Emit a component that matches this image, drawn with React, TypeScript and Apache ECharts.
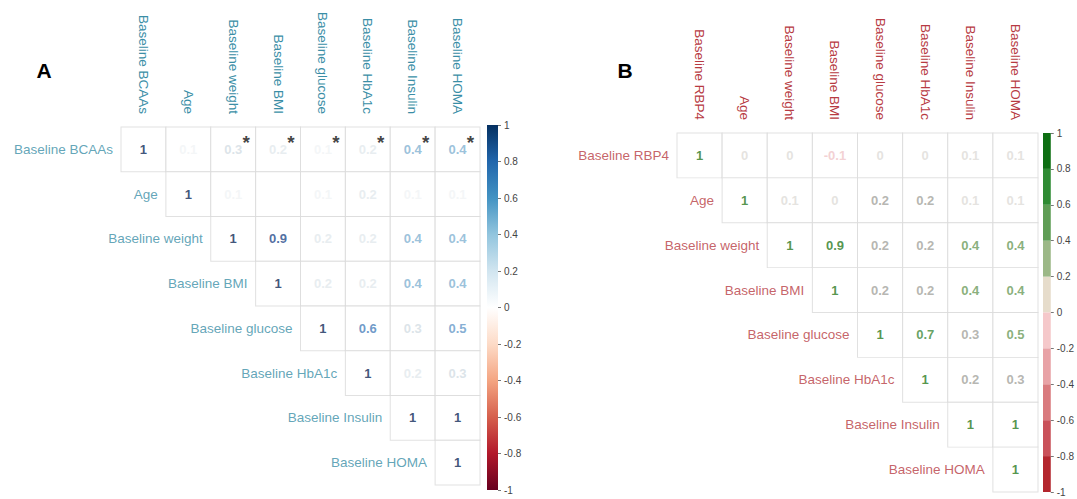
import React, { useEffect, useRef } from "react";
import * as echarts from "echarts";

// ---------- DATA ----------
const varsA = [
  "Baseline BCAAs",
  "Age",
  "Baseline weight",
  "Baseline BMI",
  "Baseline glucose",
  "Baseline HbA1c",
  "Baseline Insulin",
  "Baseline HOMA",
];
// upper triangle, row i starts at column i
const corrA: number[][] = [
  [1, 0.1, 0.3, 0.2, 0.1, 0.2, 0.4, 0.4],
  [1, 0.1, 0, 0.1, 0.2, 0.1, 0.1],
  [1, 0.9, 0.2, 0.2, 0.4, 0.4],
  [1, 0.2, 0.2, 0.4, 0.4],
  [1, 0.6, 0.3, 0.5],
  [1, 0.2, 0.3],
  [1, 1],
  [1],
];
const starRowA = "Baseline BCAAs";
const starColsA = [
  "Baseline weight",
  "Baseline BMI",
  "Baseline glucose",
  "Baseline HbA1c",
  "Baseline Insulin",
  "Baseline HOMA",
];

const varsB = [
  "Baseline RBP4",
  "Age",
  "Baseline weight",
  "Baseline BMI",
  "Baseline glucose",
  "Baseline HbA1c",
  "Baseline Insulin",
  "Baseline HOMA",
];
const corrB: number[][] = [
  [1, 0, 0, -0.1, 0, 0, 0.1, 0.1],
  [1, 0.1, 0, 0.2, 0.2, 0.1, 0.1],
  [1, 0.9, 0.2, 0.2, 0.4, 0.4],
  [1, 0.2, 0.2, 0.4, 0.4],
  [1, 0.7, 0.3, 0.5],
  [1, 0.2, 0.3],
  [1, 1],
  [1],
];

const colorbarTicks = [-1, -0.8, -0.6, -0.4, -0.2, 0, 0.2, 0.4, 0.6, 0.8, 1];

// ---------- STYLE ----------
const rdbu = [
  "#67001F", "#B2182B", "#D6604D", "#F4A582", "#FDDBC7", "#FFFFFF",
  "#D1E5F0", "#92C5DE", "#4393C3", "#2166AC", "#053061",
];
// text colour anchors for panel A (value -> colour)
const textAnchorsA: [number, string][] = [
  [-1, "#67001F"],
  [0, "#ffffff"],
  [0.2, "#e2e9ed"],
  [0.3, "#d3dde4"],
  [0.4, "#82b2d2"],
  [0.5, "#6699c8"],
  [0.6, "#4a80ba"],
  [0.9, "#1f4a8a"],
  [1, "#0f2a58"],
];
const bandsB = [
  "#b3262e", "#c9515a", "#d97a7e", "#e8a2a6", "#f5c8ca",
  "#e6dccb", "#9cb887", "#5f9d55", "#2f8b33", "#0d6e12",
];
const textBandsB = [
  "#b3262e", "#c9515a", "#d97a7e", "#e8a2a6", "#f0c6c9",
  "#dedcd8", "#a3a39d", "#6b9b5a", "#3f8a3a", "#2a7a1e",
];
const FONT = "'Liberation Sans', Arial, sans-serif";
const labelColA = "#3a8ea6";
const labelColB = "#b73a42";

function hexToRgb(h: string) {
  const n = parseInt(h.slice(1), 16);
  return [(n >> 16) & 255, (n >> 8) & 255, n & 255];
}
function lerpColor(a: string, b: string, t: number) {
  const A = hexToRgb(a), B = hexToRgb(b);
  const c = A.map((v, i) => Math.round(v + (B[i] - v) * t));
  return `rgb(${c[0]},${c[1]},${c[2]})`;
}
function colorA(v: number) {
  for (let i = 0; i < textAnchorsA.length - 1; i++) {
    const [v0, c0] = textAnchorsA[i];
    const [v1, c1] = textAnchorsA[i + 1];
    if (v >= v0 - 1e-9 && v <= v1 + 1e-9) return lerpColor(c0, c1, (v - v0) / (v1 - v0));
  }
  return textAnchorsA[textAnchorsA.length - 1][1];
}
function colorB(v: number) {
  const i = Math.min(9, Math.floor((v + 1) / 0.2 + 1e-9));
  return textBandsB[i];
}
function fmt(v: number) {
  if (v === 0) return "0";
  return String(v);
}

type PanelCfg = {
  vars: string[];
  corr: number[][];
  grid: { left: number; top: number; width: number; height: number };
  cb: { left: number; top: number; width: number; height: number };
  labelColor: string;
  colorFn: (v: number) => string;
  fontSize: number;
};

function buildPanel(cfg: PanelCfg, gi: number, opt: any) {
  const n = cfg.vars.length;
  const cw = cfg.grid.width / n;
  const ch = cfg.grid.height / n;
  const mainIdx = gi;
  const cbIdx = gi + 1;
  opt.grid.push({ ...cfg.grid, containLabel: false });
  opt.grid.push({ ...cfg.cb, containLabel: false });
  opt.xAxis.push({
    type: "category",
    data: cfg.vars,
    gridIndex: mainIdx,
    position: "top",
    axisLine: { show: false },
    axisTick: { show: false },
    splitLine: { show: false },
    axisLabel: {
      rotate: 90,
      interval: 0,
      margin: 13,
      color: cfg.labelColor,
      fontSize: cfg.fontSize,
      fontFamily: FONT,
    },
  });
  opt.yAxis.push({
    type: "category",
    data: cfg.vars,
    gridIndex: mainIdx,
    inverse: true,
    show: false,
  });
  opt.xAxis.push({ type: "category", data: ["cb"], gridIndex: cbIdx, show: false });
  opt.yAxis.push({
    type: "value",
    gridIndex: cbIdx,
    min: -1,
    max: 1,
    interval: 0.2,
    position: "right",
    axisLine: { show: false },
    axisTick: { show: true, length: 3, lineStyle: { color: "#777" } },
    splitLine: { show: false },
    axisLabel: { fontSize: 10, color: "#444", margin: 6, fontFamily: FONT },
  });

  const cells: any[] = [];
  const values: any[] = [];
  const rowLabels: any[] = [];
  cfg.corr.forEach((row, i) => {
    rowLabels.push({ value: [i, i], name: cfg.vars[i] });
    row.forEach((v, k) => {
      const j = i + k;
      cells.push([j, i]);
      values.push({
        value: [j, i, v],
        label: { color: cfg.colorFn(v) },
      });
    });
  });

  opt.series.push({
    type: "scatter",
    xAxisIndex: mainIdx,
    yAxisIndex: mainIdx,
    symbol: "rect",
    symbolSize: [cw, ch],
    itemStyle: { color: "#ffffff", borderColor: "#d9d9d9", borderWidth: 1 },
    data: cells,
    silent: true,
    z: 1,
  });
  opt.series.push({
    type: "scatter",
    xAxisIndex: mainIdx,
    yAxisIndex: mainIdx,
    symbolSize: 0,
    data: values,
    silent: true,
    z: 3,
    label: {
      show: true,
      position: "inside",
      formatter: (p: any) => fmt(p.value[2]),
      fontSize: 13,
      fontWeight: "bold",
      fontFamily: FONT,
    },
  });
  opt.series.push({
    type: "scatter",
    xAxisIndex: mainIdx,
    yAxisIndex: mainIdx,
    symbolSize: 0,
    data: rowLabels,
    silent: true,
    z: 3,
    label: {
      show: true,
      position: "left",
      distance: cw / 2 + 8,
      formatter: (p: any) => p.name,
      color: cfg.labelColor,
      fontSize: cfg.fontSize,
      fontFamily: FONT,
    },
  });
}

export default function App() {
  const ref = useRef<HTMLDivElement>(null);
  useEffect(() => {
    if (!ref.current) return;
    const chart = echarts.init(ref.current, null, { renderer: "svg" });
    const opt: any = {
      animation: false,
      backgroundColor: "#ffffff",
      grid: [],
      xAxis: [],
      yAxis: [],
      series: [],
      graphic: [
        {
          type: "text",
          x: 44,
          y: 70,
          style: {
            text: "A",
            fontSize: 21,
            fontWeight: "bold",
            fontFamily: FONT,
            fill: "#000",
            align: "center",
            verticalAlign: "middle",
          },
        },
        {
          type: "text",
          x: 625,
          y: 70,
          style: {
            text: "B",
            fontSize: 21,
            fontWeight: "bold",
            fontFamily: FONT,
            fill: "#000",
            align: "center",
            verticalAlign: "middle",
          },
        },
      ],
    };

    // Panel A
    buildPanel(
      {
        vars: varsA,
        corr: corrA,
        grid: { left: 121, top: 127, width: 359, height: 358 },
        cb: { left: 487, top: 125, width: 11, height: 365 },
        labelColor: labelColA,
        colorFn: colorA,
        fontSize: 13.5,
      },
      0,
      opt
    );
    // asterisks A
    const starData = starColsA.map((c) => [varsA.indexOf(c), varsA.indexOf(starRowA)]);
    opt.series.push({
      type: "scatter",
      xAxisIndex: 0,
      yAxisIndex: 0,
      symbolSize: 0,
      data: starData,
      silent: true,
      z: 4,
      label: {
        show: true,
        position: "inside",
        offset: [13, -7],
        formatter: "*",
        fontSize: 19,
        fontWeight: "bold",
        color: "#111",
        fontFamily: FONT,
      },
    });
    // colorbar A: gradient bars
    const posStops = rdbu.slice(5).reverse().map((c, i) => ({ offset: i / 5, color: c }));
    const negStops = rdbu.slice(0, 6).reverse().map((c, i) => ({ offset: i / 5, color: c }));
    opt.series.push({
      type: "bar",
      xAxisIndex: 1,
      yAxisIndex: 1,
      stack: "cbA",
      barWidth: "100%",
      silent: true,
      data: [colorbarTicks[colorbarTicks.length - 1]],
      itemStyle: { color: new echarts.graphic.LinearGradient(0, 0, 0, 1, posStops) },
    });
    opt.series.push({
      type: "bar",
      xAxisIndex: 1,
      yAxisIndex: 1,
      stack: "cbA",
      barWidth: "100%",
      silent: true,
      data: [colorbarTicks[0]],
      itemStyle: { color: new echarts.graphic.LinearGradient(0, 0, 0, 1, negStops) },
    });

    // Panel B
    buildPanel(
      {
        vars: varsB,
        corr: corrB,
        grid: { left: 677, top: 133, width: 361, height: 359 },
        cb: { left: 1043, top: 133, width: 12, height: 359 },
        labelColor: labelColB,
        colorFn: colorB,
        fontSize: 13.5,
      },
      2,
      opt
    );
    // colorbar B: stacked bands; positive from 0 upward, negative from 0 downward
    for (let k = 5; k < 10; k++) {
      opt.series.push({
        type: "bar",
        xAxisIndex: 3,
        yAxisIndex: 3,
        stack: "cbB",
        barWidth: "100%",
        silent: true,
        data: [colorbarTicks[k + 1] - colorbarTicks[k]],
        itemStyle: { color: bandsB[k] },
      });
    }
    for (let k = 4; k >= 0; k--) {
      opt.series.push({
        type: "bar",
        xAxisIndex: 3,
        yAxisIndex: 3,
        stack: "cbB",
        barWidth: "100%",
        silent: true,
        data: [colorbarTicks[k] - colorbarTicks[k + 1]],
        itemStyle: { color: bandsB[k] },
      });
    }

    chart.setOption(opt);
    return () => chart.dispose();
  }, []);
  return (
    <div
      ref={ref}
      style={{ position: "fixed", left: 0, top: 0, width: 1077, height: 499, background: "#fff" }}
    />
  );
}
